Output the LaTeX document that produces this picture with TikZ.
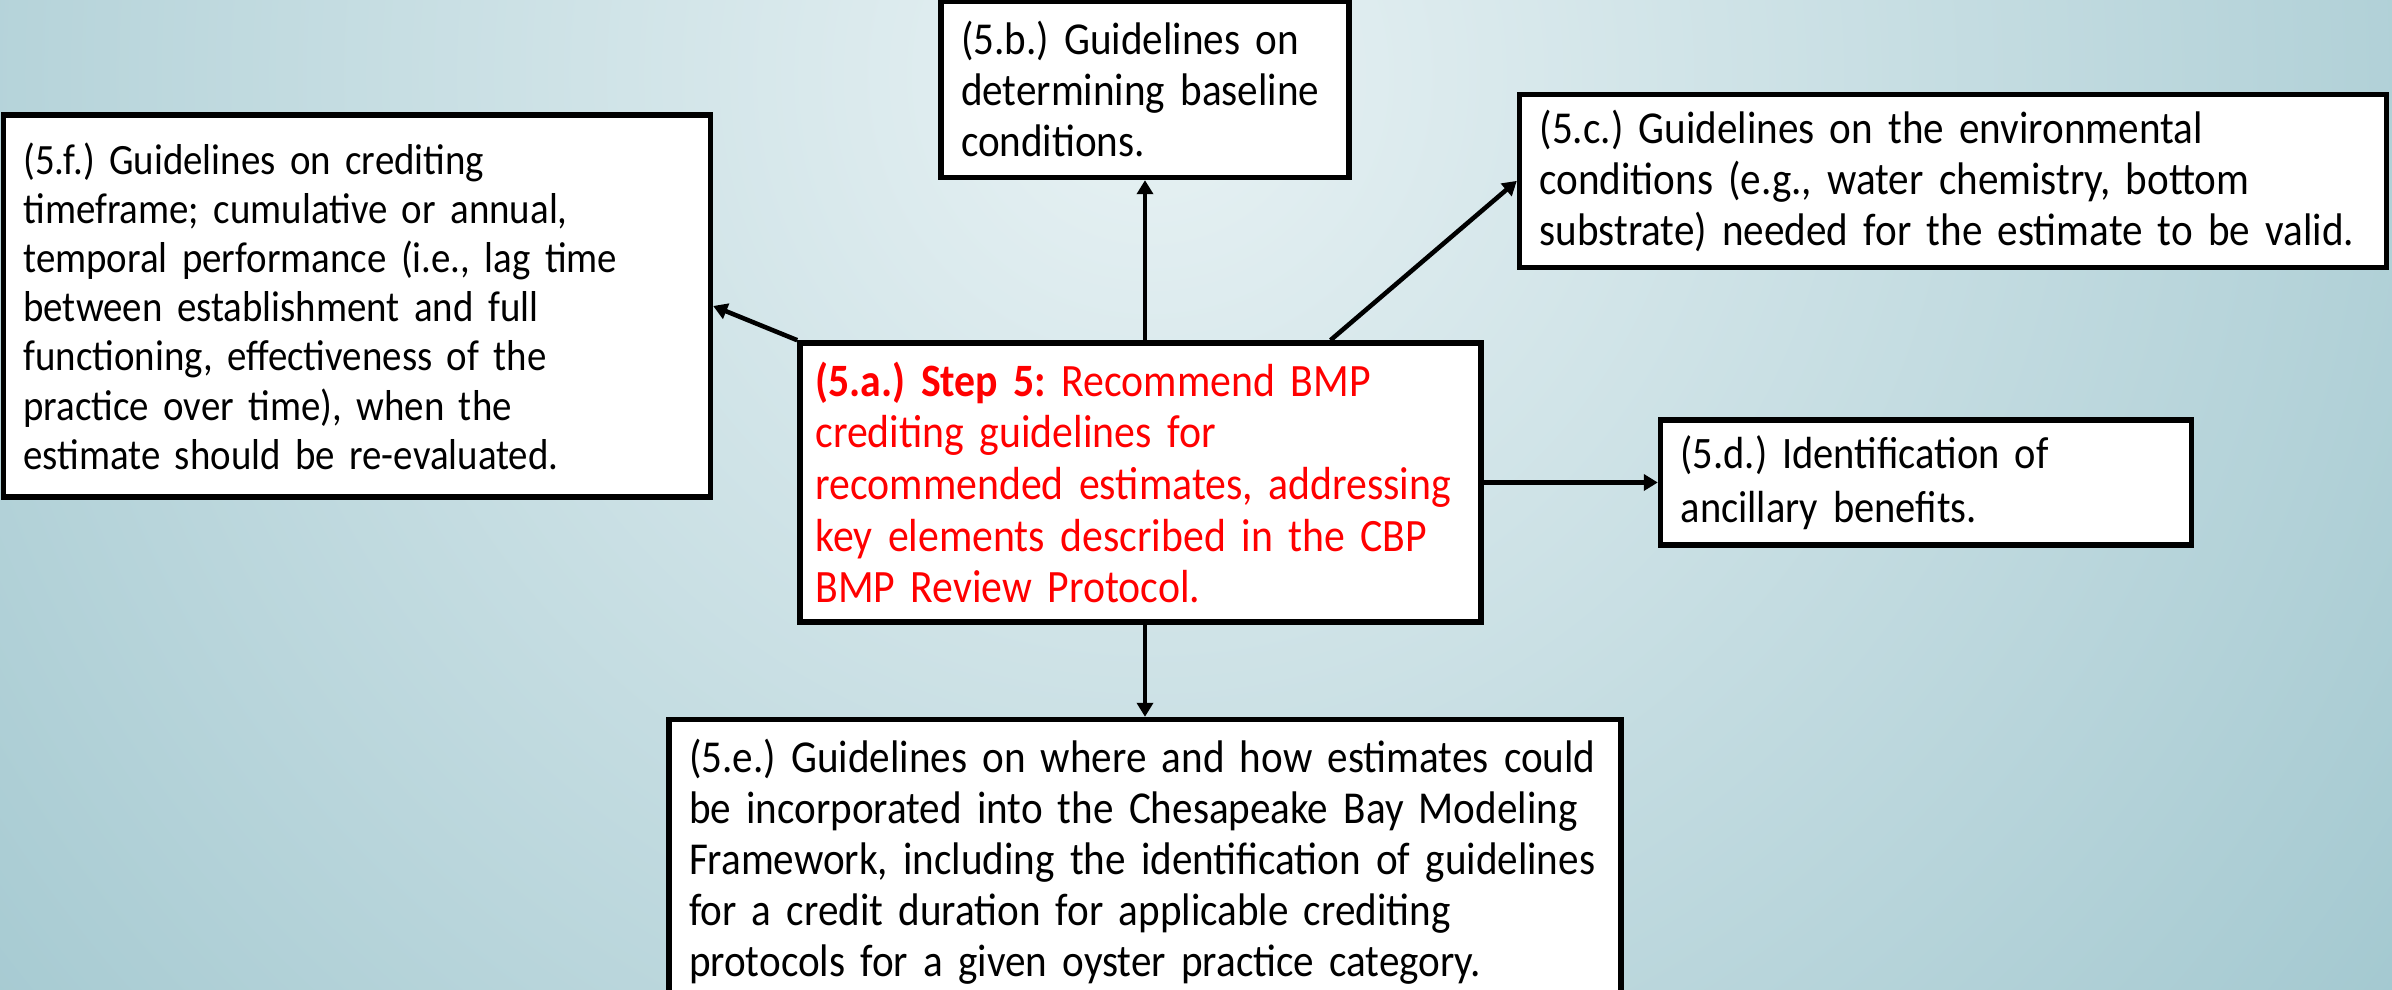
\documentclass[tikz,border=0pt]{standalone}
\usepackage{fontspec}
\setmainfont{Carlito}[FakeStretch=0.9]
\usetikzlibrary{positioning,arrows.meta}
\definecolor{bgin}{RGB}{232,242,244}
\definecolor{bgout}{RGB}{100,162,175}
\definecolor{stepred}{RGB}{255,0,0}

\begin{document}
\frenchspacing
\begin{tikzpicture}[
    box/.style={rectangle, draw=black, line width=1.6pt, fill=white, align=left, inner xsep=0.2cm, inner ysep=0.05cm, font=\fontsize{13}{14.5}\selectfont},
    >={Triangle[length=0.14cm,width=0.16cm]},
    line width=1.3pt, black
    ]

    %Background
    \clip (0,0) rectangle (23.92,9.90);
    \shade[inner color=bgin, outer color=bgout] (11.5,9.15) circle (30);

    %Nodes
    \node[box, text=stepred, text width=6.50cm, inner xsep=0.155cm, minimum height=2.79cm, font=\fontsize{13.2}{14.7}\selectfont] (step) at (11.405,5.075)
        {\textbf{(5.a.) Step 5:} Recommend BMP\\crediting guidelines for\\recommended estimates, addressing\\key elements described in the CBP\\BMP Review Protocol.};
    \node[box, text width=3.68cm, minimum height=1.76cm] (b) [above=1.60cm of step, xshift=0.045cm]
        {(5.b.) Guidelines on\\determining baseline\\conditions.};
    \node[box, text width=8.27cm, minimum height=1.73cm] (c) [above right=0.70cm and 0.33cm of step]
        {(5.c.) Guidelines on the environmental\\conditions (e.g., water chemistry, bottom\\substrate) needed for the estimate to be valid.};
    \node[box, text width=4.91cm, minimum height=1.25cm, font=\fontsize{12.8}{15.5}\selectfont] (d) [right=1.74cm of step]
        {(5.d.) Identification of\\ancillary benefits.};
    \node[box, text width=9.12cm, minimum height=2.85cm] (e) [below=0.92cm of step, xshift=0.045cm]
        {(5.e.) Guidelines on where and how estimates could\\be incorporated into the Chesapeake Bay Modeling\\Framework, including the identification of guidelines\\for a credit duration for applicable crediting\\protocols for a given oyster practice category.};
    \node[box, text width=6.67cm, minimum height=3.82cm, font=\fontsize{12.3}{14}\selectfont] (f) [left=0.84cm of step, yshift=1.765cm]
        {(5.f.) Guidelines on crediting\\timeframe; cumulative or annual,\\temporal performance (i.e., lag time\\between establishment and full\\functioning, effectiveness of the\\practice over time), when the\\estimate should be re-evaluated.};

    %Lines
    \draw[->] (b.south |- step.north) -- (b.south);
    \draw[->] ([xshift=1.9cm]step.north) -- (c.west);
    \draw[->] (step.east) -- (d.west);
    \draw[->] (e.north |- step.south) -- (e.north);
    \draw[->] (step.north west) -- (f.east);
\end{tikzpicture}
\end{document}
